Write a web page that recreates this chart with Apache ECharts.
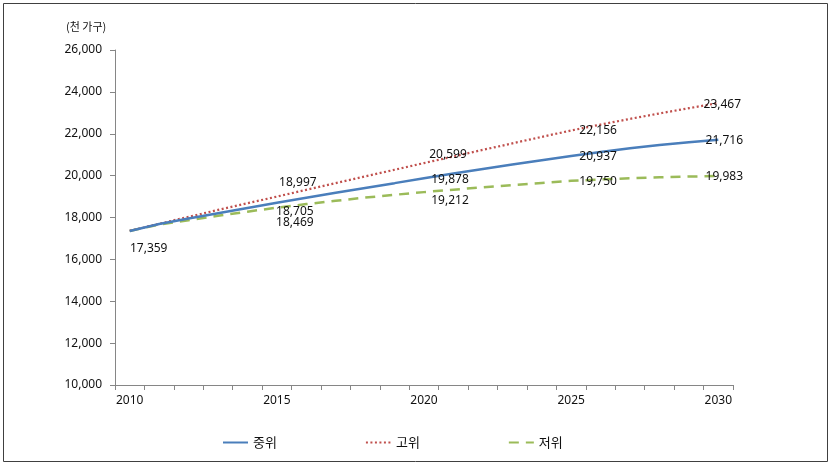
<!DOCTYPE html>
<html>
<head>
<meta charset="utf-8">
<script src="https://cdn.jsdelivr.net/npm/echarts@6/dist/echarts.min.js"></script>
<style>
  html, body { margin: 0; padding: 0; background: #fff; }
  #chart { width: 832px; height: 465px; }
</style>
</head>
<body>
<div id="chart"></div>
<script>
// 연도 (2010 ~ 2030)
var years = ['2010', '2011', '2012', '2013', '2014', '2015', '2016', '2017', '2018', '2019', '2020',
  '2021', '2022', '2023', '2024', '2025', '2026', '2027', '2028', '2029', '2030'];

// 중위 추계 (천 가구)
var midValues = [17359, 17687, 17951, 18206, 18458, 18705, 18946, 19181, 19412, 19641, 19878,
  20103, 20318, 20530, 20737, 20937, 21130, 21305, 21464, 21595, 21716];
// 고위 추계
var highValues = [17359, 17700, 18030, 18360, 18680, 18997, 19320, 19640, 19960, 20280, 20599,
  20915, 21230, 21540, 21850, 22156, 22440, 22710, 22970, 23220, 23467];
// 저위 추계
var lowValues = [17359, 17660, 17870, 18080, 18280, 18469, 18640, 18800, 18950, 19085, 19212,
  19330, 19440, 19550, 19650, 19750, 19820, 19870, 19920, 19955, 19983];

var seriesNames = ['중위', '고위', '저위'];
var yTicks = [10000, 12000, 14000, 16000, 18000, 20000, 22000, 24000, 26000];

// 라벨을 붙일 연도 인덱스와 위치 보정 (px)
var labelOffsets = {
  '중위': {0: [19, 18], 5: [18, 9], 10: [26, 1], 15: [27, 1], 20: [6, 1]},
  '고위': {5: [21, -14], 10: [24, -9], 15: [27, 0], 20: [4, 2]},
  '저위': {5: [18, 15], 10: [26, 8], 15: [27, 1], 20: [6, 1]}
};

function fmt(v) {
  return String(v).replace(/\B(?=(\d{3})+(?!\d))/g, ',');
}

function buildData(name, values) {
  var offs = labelOffsets[name];
  return values.map(function (v, i) {
    if (offs[i]) {
      return {value: v, label: {show: true, position: 'inside', offset: offs[i]}};
    }
    return v;
  });
}

function makeSeries(name, values, color, type, width, z) {
  return {
    name: name,
    type: 'line',
    data: buildData(name, values),
    symbol: 'circle',
    symbolSize: 2,
    showSymbol: true,
    z: z,
    itemStyle: {color: 'rgba(0,0,0,0)', borderWidth: 0},
    lineStyle: {color: color, width: width, type: type},
    label: {
      show: false,
      color: '#111',
      fontSize: 12,
      fontFamily: 'Noto Sans',
      formatter: function (p) { return fmt(p.value); }
    },
    emphasis: {disabled: true},
    animation: false
  };
}

var myChart = echarts.init(document.getElementById('chart'));
var option = {
  backgroundColor: '#ffffff',
  animation: false,
  grid: {left: 115, right: 99, top: 50, bottom: 80},
  legend: {
    data: seriesNames,
    left: 217,
    top: 431,
    itemWidth: 25,
    itemHeight: 10,
    itemGap: 88,
    itemStyle: {opacity: 0},
    textStyle: {fontSize: 13, color: '#111', fontFamily: 'Noto Sans CJK KR'}
  },
  graphic: [
    {
      type: 'rect',
      shape: {x: 3.5, y: 3.5, width: 824, height: 458},
      style: {fill: 'none', stroke: '#404040', lineWidth: 1}
    },
    {
      type: 'text',
      left: 66,
      top: 21,
      style: {text: '(천 가구)', fontSize: 11, fill: '#111', fontFamily: 'Noto Sans CJK KR'}
    }
  ],
  xAxis: {
    type: 'category',
    data: years,
    boundaryGap: true,
    axisLine: {lineStyle: {color: '#868686', width: 1}},
    axisTick: {show: true, interval: 0, length: 5, lineStyle: {color: '#868686'}},
    axisLabel: {
      interval: 4,
      margin: 10,
      fontSize: 12,
      color: '#111',
      fontFamily: 'Liberation Sans Narrow, Noto Sans'
    },
    splitLine: {show: false}
  },
  yAxis: {
    type: 'value',
    min: yTicks[0],
    max: yTicks[yTicks.length - 1],
    interval: 2000,
    axisLine: {show: true, lineStyle: {color: '#868686', width: 1}},
    axisTick: {show: true, length: 5, lineStyle: {color: '#868686'}},
    axisLabel: {
      margin: 13,
      fontSize: 12,
      color: '#111',
      fontFamily: 'Noto Sans',
      formatter: function (v) { return fmt(v); }
    },
    splitLine: {show: false}
  },
  series: [
    makeSeries('중위', midValues, '#4A7EBB', 'solid', 2.5, 3),
    makeSeries('고위', highValues, '#C0504D', [2, 2.5], 2.25, 2),
    makeSeries('저위', lowValues, '#9BBB59', [10, 7], 2.5, 1)
  ]
};
myChart.setOption(option);
</script>
</body>
</html>
